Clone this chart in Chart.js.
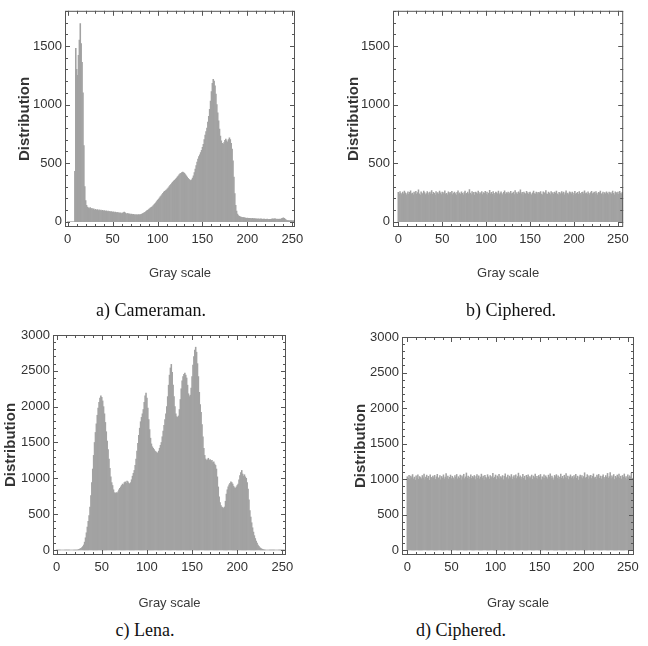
<!DOCTYPE html>
<html>
<head>
<meta charset="utf-8">
<script src="https://cdn.jsdelivr.net/npm/chart.js@4.4.1/dist/chart.umd.min.js"></script>
<style>
  body { margin: 0; background: #fff; }
  #page { position: relative; width: 648px; height: 646px; overflow: hidden; }
  canvas { position: absolute; }
  .caption {
    position: absolute; width: 200px; text-align: center;
    font: 18px "Liberation Serif", "Times New Roman", serif; line-height: 20px; color: #111;
  }
</style>
</head>
<body>
<div id="page">
  <canvas id="histA" width="310" height="290" style="left:0;top:0"></canvas>
  <canvas id="histB" width="310" height="290" style="left:324px;top:0"></canvas>
  <canvas id="histC" width="310" height="300" style="left:0;top:320px"></canvas>
  <canvas id="histD" width="320" height="300" style="left:324px;top:320px"></canvas>
  <div class="caption" style="left:51px;top:300px">a) Cameraman.</div>
  <div class="caption" style="left:411px;top:300px">b) Ciphered.</div>
  <div class="caption" style="left:45px;top:620px">c) Lena.</div>
  <div class="caption" style="left:361px;top:620px">d) Ciphered.</div>
</div>
<script>
'use strict';

// gray levels 0..255, one bar each
var grayLevels = Array.from({ length: 256 }, function (_, i) { return i; });

var grayTicks = [0, 50, 100, 150, 200, 250];
var countTicksSmall = [0, 500, 1000, 1500];
var countTicksLarge = [0, 500, 1000, 1500, 2000, 2500, 3000];

var cameramanCounts = [
    0, 0, 0, 0, 0, 0, 0, 0, 430, 1480, 1300, 1250, 1420, 1550, 1690, 1520,
    1360, 1100, 650, 300, 180, 140, 125, 118, 112, 120, 108, 115, 104, 110, 100, 106,
    98, 104, 96, 101, 94, 99, 92, 97, 90, 95, 88, 93, 86, 91, 84, 88,
    82, 86, 80, 84, 78, 82, 76, 80, 74, 78, 72, 76, 70, 74, 78, 82,
    76, 70, 66, 72, 64, 68, 62, 66, 60, 64, 58, 62, 57, 61, 56, 60,
    58, 62, 64, 68, 72, 76, 80, 86, 92, 98, 104, 110, 116, 122, 128, 136,
    144, 152, 162, 172, 182, 192, 202, 212, 222, 232, 242, 252, 260, 266, 272, 280,
    290, 300, 310, 320, 330, 338, 346, 354, 362, 370, 380, 390, 400, 408, 414, 420,
    424, 420, 412, 402, 392, 380, 370, 362, 356, 352, 358, 372, 392, 420, 450, 480,
    510, 535, 555, 570, 590, 610, 635, 660, 700, 740, 770, 800, 850, 900, 960, 1030,
    1110, 1180, 1215, 1200, 1160, 1090, 1000, 930, 860, 790, 730, 690, 670, 660, 675, 695,
    705, 690, 680, 700, 715, 700, 670, 620, 520, 380, 240, 140, 90, 65, 52, 46,
    42, 40, 38, 36, 35, 33, 32, 30, 31, 29, 28, 30, 27, 26, 28, 25,
    26, 24, 25, 23, 24, 22, 23, 24, 22, 21, 23, 22, 20, 21, 22, 20,
    19, 21, 20, 22, 24, 23, 25, 24, 22, 21, 23, 20, 22, 21, 26, 30,
    34, 28, 22, 16, 12, 10, 9, 8, 10, 9, 8, 7, 9, 8, 7, 6
];

var cameramanCipheredCounts = [
    250, 235, 258, 243, 231, 254, 239, 262, 247, 228, 241, 256, 233, 250, 264, 237,
    244, 230, 253, 241, 260, 235, 248, 273, 239, 227, 255, 244, 236, 262, 249, 232,
    241, 258, 230, 247, 254, 238, 265, 233, 251, 242, 228, 257, 240, 249, 235, 261,
    246, 231, 253, 239, 248, 264, 236, 243, 230, 255, 241, 250, 237, 259, 232, 245,
    254, 240, 228, 251, 263, 238, 247, 234, 256, 243, 230, 249, 261, 236, 242, 253,
    239, 275, 245, 232, 258, 241, 250, 228, 254, 246, 237, 262, 233, 248, 240, 257,
    231, 249, 243, 260, 236, 252, 229, 245, 267, 239, 251, 234, 258, 242, 230, 253,
    247, 238, 261, 232, 244, 255, 240, 229, 250, 263, 236, 248, 241, 254, 233, 246,
    259, 237, 243, 252, 231, 265, 240, 249, 234, 256, 245, 272, 238, 251, 230, 254,
    242, 235, 260, 247, 233, 249, 254, 239, 228, 246, 262, 241, 235, 253, 248, 232,
    251, 244, 258, 236, 230, 255, 243, 249, 266, 238, 234, 252, 245, 231, 257, 240,
    248, 233, 254, 242, 261, 237, 229, 250, 246, 235, 258, 241, 252, 230, 247, 263,
    239, 244, 232, 256, 249, 238, 253, 228, 245, 260, 236, 243, 251, 234, 257, 242,
    231, 250, 254, 237, 264, 240, 246, 233, 255, 242, 229, 249, 260, 238, 245, 252,
    236, 258, 243, 230, 251, 247, 262, 235, 241, 254, 232, 248, 239, 256, 244, 231,
    253, 240, 249, 236, 261, 243, 230, 255, 248, 238, 252, 233, 259, 245, 237, 250
];

var lenaCounts = [
    0, 0, 0, 0, 0, 0, 0, 0, 0, 0, 0, 0, 0, 0, 0, 0,
    0, 0, 0, 0, 0, 0, 0, 0, 5, 10, 16, 24, 34, 48, 70, 110,
    170, 240, 320, 400, 480, 600, 760, 940, 1130, 1320, 1500, 1640, 1760, 1880, 1980, 2060,
    2120, 2150, 2130, 2080, 2000, 1900, 1780, 1650, 1520, 1400, 1270, 1140, 1020, 940, 900, 840,
    800, 790, 800, 790, 810, 840, 860, 880, 900, 920, 910, 940, 950, 930, 960, 950,
    930, 920, 940, 980, 1030, 1070, 1110, 1180, 1270, 1380, 1490, 1600, 1700, 1790, 1850, 1900,
    1960, 2060, 2150, 2190, 2120, 1980, 1820, 1680, 1560, 1480, 1440, 1420, 1400, 1380, 1370, 1360,
    1350, 1380, 1420, 1460, 1500, 1580, 1660, 1740, 1820, 1900, 2000, 2140, 2300, 2440, 2540, 2590,
    2480, 2300, 2140, 2000, 1900, 1860, 1850, 1870, 1960, 2100, 2250, 2360, 2420, 2450, 2470, 2440,
    2400, 2300, 2180, 2140, 2160, 2260, 2420, 2580, 2700, 2790, 2830, 2760, 2600, 2420, 2200, 2030,
    1920, 1750, 1580, 1420, 1320, 1270, 1250, 1260, 1280, 1250, 1260, 1240, 1250, 1220, 1230, 1200,
    1180, 1130, 1020, 880, 740, 660, 620, 600, 590, 580, 600, 680, 780, 840, 880, 910,
    930, 950, 940, 920, 890, 870, 860, 880, 900, 920, 980, 1040, 1080, 1110, 1060, 1030,
    1050, 1020, 1000, 940, 850, 700, 550, 460, 380, 310, 250, 200, 160, 125, 95, 70,
    50, 35, 24, 15, 9, 5, 2, 0, 0, 0, 0, 0, 0, 0, 0, 0,
    0, 0, 0, 0, 0, 0, 0, 0, 0, 0, 0, 0, 0, 0, 0, 0
];

var lenaCipheredCounts = [
    1032, 1008, 1051, 994, 1040, 1019, 1063, 1002, 1027, 985, 1046, 1013, 1058, 997, 1035, 1021,
    1004, 1049, 1016, 1071, 990, 1028, 1055, 1011, 1038, 982, 1060, 1024, 1007, 1043, 1018, 1052,
    995, 1031, 1066, 1009, 1022, 1047, 987, 1036, 1014, 1059, 1001, 1029, 1075, 1012, 1041, 998,
    1025, 1056, 1006, 1039, 1017, 992, 1048, 1023, 1064, 1003, 1033, 1011, 1054, 989, 1044, 1020,
    1067, 1005, 1030, 1085, 1013, 1042, 996, 1026, 1058, 1008, 1037, 1019, 1050, 993, 1034, 1062,
    1010, 1045, 1001, 1028, 1069, 1015, 1040, 984, 1053, 1024, 1006, 1061, 1031, 999, 1047, 1018,
    1036, 1080, 1012, 1027, 1057, 994, 1043, 1021, 1065, 1004, 1033, 1016, 1049, 990, 1038, 1072,
    1009, 1026, 1054, 1002, 1041, 1019, 1063, 997, 1030, 1047, 1014, 1058, 1007, 1035, 1083, 1022,
    1045, 1000, 1029, 1067, 1011, 1039, 986, 1052, 1024, 1060, 1005, 1034, 1017, 1056, 995, 1042,
    1020, 1070, 1008, 1037, 1003, 1050, 1026, 1064, 991, 1032, 1015, 1059, 1010, 1044, 1023, 1003,
    1055, 1028, 1074, 1006, 1040, 1018, 988, 1051, 1033, 1062, 1012, 1046, 997, 1027, 1068, 1014,
    1038, 1004, 1053, 1021, 1077, 1009, 1043, 993, 1031, 1058, 1016, 1036, 1002, 1049, 1025, 1066,
    1011, 1041, 985, 1030, 1057, 1019, 1047, 1005, 1035, 1088, 1013, 1024, 1061, 998, 1044, 1020,
    1052, 1007, 1039, 1072, 1015, 1028, 996, 1054, 1032, 1065, 1010, 1042, 1001, 1037, 1059, 1023,
    1003, 1048, 1026, 1079, 1012, 1034, 1090, 1006, 1045, 1021, 1063, 994, 1038, 1017, 1056, 1029,
    1068, 1008, 1040, 1000, 1050, 1025, 1071, 1014, 1036, 992, 1060, 1019, 1046, 1031, 1083, 1011
];

var labelFont = '"Liberation Sans", Arial, sans-serif';
var barColor = '#a2a2a2';

// closed frame with inward ticks on all four sides
var frameTicks = {
    id: 'frameTicks',
    afterDatasetsDraw: function (chart) {
        var ctx = chart.ctx;
        var a = chart.chartArea;
        var x = chart.scales.x;
        var y = chart.scales.y;
        var v, p, len;

        ctx.save();
        ctx.strokeStyle = '#555';
        ctx.lineWidth = 1;
        ctx.strokeRect(a.left + 0.5, a.top + 0.5, a.right - a.left - 1, a.bottom - a.top - 1);
        ctx.beginPath();
        for (v = 0; v <= x.max; v += 10) {
            p = Math.round(x.getPixelForValue(v)) + 0.5;
            len = v % 50 === 0 ? 5 : 3;
            ctx.moveTo(p, a.bottom); ctx.lineTo(p, a.bottom - len);
            ctx.moveTo(p, a.top); ctx.lineTo(p, a.top + len);
        }
        for (v = 0; v <= y.max; v += 100) {
            p = Math.round(y.getPixelForValue(v)) + 0.5;
            len = v % 500 === 0 ? 5 : 3;
            ctx.moveTo(a.left, p); ctx.lineTo(a.left + len, p);
            ctx.moveTo(a.right, p); ctx.lineTo(a.right - len, p);
        }
        ctx.stroke();
        ctx.restore();
    }
};

function plainNumber (value) {
    return String(value);
}

function histogram (id, counts, box) {
    var ctx = document.getElementById(id).getContext('2d');

    return new Chart(ctx, {
        type: 'bar',
        data: {
            labels: grayLevels,
            datasets: [{
                data: counts,
                backgroundColor: barColor,
                borderWidth: 0,
                barPercentage: 1,
                categoryPercentage: 1
            }]
        },
        options: {
            responsive: false,
            animation: false,
            layout: { padding: { top: box.top, right: box.right, left: 0, bottom: 0 } },
            plugins: { legend: { display: false }, tooltip: { enabled: false } },
            scales: {
                x: {
                    type: 'linear',
                    offset: false,
                    min: box.xMin,
                    max: box.xMax,
                    grid: { display: false, drawTicks: false, offset: false },
                    border: { display: false },
                    afterBuildTicks: function (scale) {
                        scale.ticks = grayTicks.map(function (t) { return { value: t }; });
                    },
                    afterFit: function (scale) { scale.height = box.xAxisHeight; },
                    ticks: {
                        padding: 5,
                        maxRotation: 0,
                        color: '#333',
                        callback: plainNumber,
                        font: { family: labelFont, size: 13 }
                    },
                    title: {
                        display: true,
                        text: 'Gray scale',
                        color: '#3a3a3a',
                        padding: { top: 0, bottom: 9 },
                        font: { family: labelFont, size: 13 }
                    }
                },
                y: {
                    min: box.yMin,
                    max: box.yMax,
                    grid: { display: false, drawTicks: false },
                    border: { display: false },
                    afterBuildTicks: function (scale) {
                        scale.ticks = box.yTicks.map(function (t) { return { value: t }; });
                    },
                    afterFit: function (scale) { scale.width = box.yAxisWidth; },
                    ticks: {
                        padding: 3,
                        color: '#333',
                        callback: plainNumber,
                        font: { family: labelFont, size: 13 }
                    },
                    title: {
                        display: true,
                        text: 'Distribution',
                        color: '#333',
                        padding: { top: box.yTitlePad, bottom: 0 },
                        font: { family: labelFont, size: 15, weight: 'bold' }
                    }
                }
            }
        },
        plugins: [frameTicks]
    });
}

histogram('histA', cameramanCounts, {
    top: 7, right: 15, yAxisWidth: 65, xAxisHeight: 63, yTitlePad: 16,
    xMin: -3, xMax: 253, yMin: -45, yMax: 1800, yTicks: countTicksSmall
});
histogram('histB', cameramanCipheredCounts, {
    top: 7, right: 10, yAxisWidth: 69, xAxisHeight: 63, yTitlePad: 21,
    xMin: -6, xMax: 256, yMin: -45, yMax: 1800, yTicks: countTicksSmall
});
histogram('histC', lenaCounts, {
    top: 15, right: 24, yAxisWidth: 53, xAxisHeight: 65, yTitlePad: 2,
    xMin: -4, xMax: 254, yMin: -70, yMax: 3000, yTicks: countTicksLarge
});
histogram('histD', lenaCipheredCounts, {
    top: 17, right: 10, yAxisWidth: 78, xAxisHeight: 65, yTitlePad: 28,
    xMin: -6, xMax: 257, yMin: -70, yMax: 3000, yTicks: countTicksLarge
});
</script>
</body>
</html>
